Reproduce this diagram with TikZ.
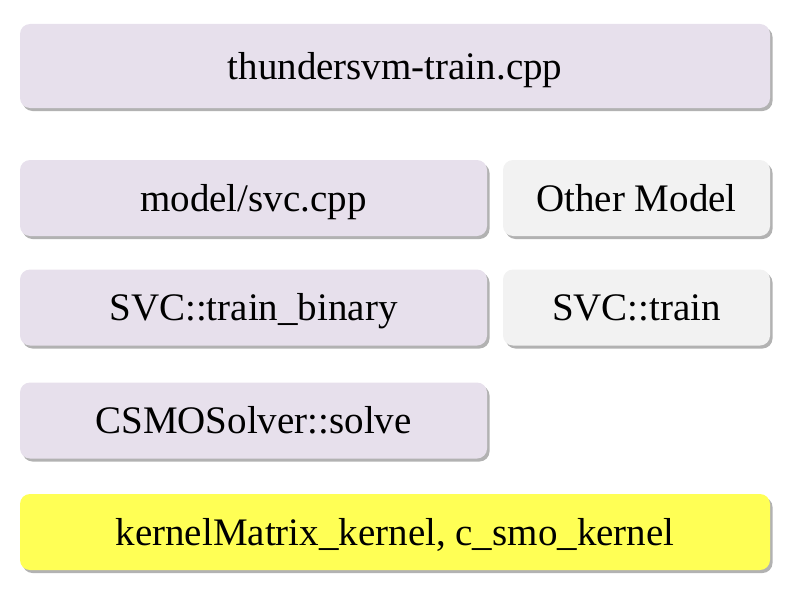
\documentclass[tikz,border=0pt]{standalone}
\usepackage{fontspec}
\setmainfont{Liberation Serif}
\usetikzlibrary{shadows}

\definecolor{boxlav}{RGB}{231,224,236}
\definecolor{boxgray}{RGB}{242,242,242}
\definecolor{boxyel}{RGB}{255,255,85}

\tikzset{
	codebox/.style={rounded corners=10pt, inner sep=0pt, align=center,
		text height=30pt, text depth=4pt,
		font=\fontsize{39}{47}\selectfont,
		drop shadow={shadow xshift=2.5pt, shadow yshift=-3pt, fill=black, opacity=0.3}},
}

\begin{document}
\begin{tikzpicture}[x=1pt,y=-1pt]
		
		\useasboundingbox (0,0) rectangle (808,602);
		
		% full width rows
		\node[codebox, fill=boxlav, minimum width=750pt, minimum height=84pt] (train) at (395,66) {thundersvm-train.cpp};
		
		% left column
		\node[codebox, fill=boxlav, minimum width=467pt, minimum height=76pt] (svc) at (253.5,198) {model/svc.cpp};
		\node[codebox, fill=boxlav, minimum width=467pt, minimum height=76pt] (binary) at (253.5,307.5) {SVC::train\_binary};
		\node[codebox, fill=boxlav, minimum width=467pt, minimum height=76pt] (solver) at (253.5,420.5) {CSMOSolver::solve};
		
		% right column
		\node[codebox, fill=boxgray, minimum width=267pt, minimum height=76pt] (other) at (636.5,198) {Other Model};
		\node[codebox, fill=boxgray, minimum width=267pt, minimum height=76pt] (svctrain) at (636.5,307.5) {SVC::train};
		
		% kernels
		\node[codebox, fill=boxyel, minimum width=750pt, minimum height=76pt] (kernel) at (395,532) {kernelMatrix\_kernel, c\_smo\_kernel};
		
\end{tikzpicture}
\end{document}
